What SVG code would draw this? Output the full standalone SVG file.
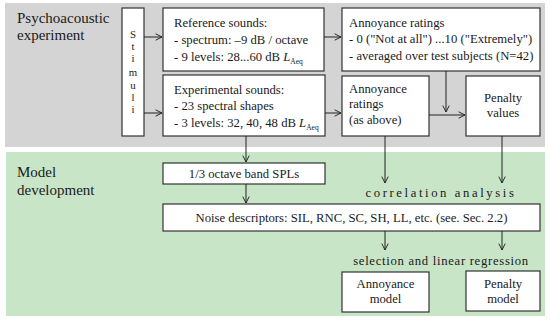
<svg xmlns="http://www.w3.org/2000/svg" width="550" height="320" viewBox="0 0 550 320" font-family="'Liberation Serif', 'DejaVu Serif', serif">
<style>
text{font-family:'Liberation Serif','DejaVu Serif',serif;fill:#1a1a1a;font-size:12.7px}
.title{font-size:15px}
.box{fill:#fff;stroke:#333;stroke-width:1.2}
.c{text-anchor:middle}
.st{font-size:10.8px;text-anchor:middle}
.sub{font-size:7.5px}
.conn line{stroke:#222;stroke-width:1;fill:none}
</style>
<defs>
<marker id="ah" viewBox="0 0 10 10" refX="9" refY="5" markerWidth="8" markerHeight="8" markerUnits="userSpaceOnUse" orient="auto">
<path d="M1,1 L9,5 L1,9" fill="none" stroke="#222" stroke-width="1.2"/>
</marker>
</defs>
<rect x="5" y="3" width="540" height="144" fill="#d4d4d4"/>
<rect x="6" y="152" width="539" height="164" fill="#c8e5c8"/>
<g id="label-psycho">
<text class="title" x="17" y="23">Psychoacoustic</text>
<text class="title" x="17" y="40">experiment</text>
</g>
<g id="label-model">
<text class="title" x="17" y="177">Model</text>
<text class="title" x="17" y="195">development</text>
</g>
<g id="stimuli">
<rect class="box" x="122" y="8" width="22" height="128"/>
<text class="st" x="133" y="38">S</text>
<text class="st" x="133" y="50">t</text>
<text class="st" x="133" y="62">i</text>
<text class="st" x="133" y="76">m</text>
<text class="st" x="133" y="89">u</text>
<text class="st" x="133" y="101">l</text>
<text class="st" x="133" y="113">i</text>
</g>
<g id="reference">
<rect class="box" x="163" y="8" width="161" height="63"/>
<text x="174" y="27">Reference sounds:</text>
<text x="174" y="44">- spectrum: –9 dB / octave</text>
<text x="174" y="61">- 9 levels: 28...60 dB <tspan font-style="italic">L</tspan><tspan class="sub" dy="3">Aeq</tspan></text>
</g>
<g id="experimental">
<rect class="box" x="163" y="75" width="162" height="61"/>
<text x="174" y="94">Experimental sounds:</text>
<text x="174" y="110">- 23 spectral shapes</text>
<text x="174" y="127">- 3 levels: 32, 40, 48 dB <tspan font-style="italic">L</tspan><tspan class="sub" dy="3">Aeq</tspan></text>
</g>
<g id="annoyance-ratings">
<rect class="box" x="342" y="8" width="198" height="63"/>
<text x="349" y="27">Annoyance ratings</text>
<text x="349" y="43">- 0 ("Not at all") ...10 ("Extremely")</text>
<text x="349" y="60">- averaged over test subjects (N=42)</text>
</g>
<g id="annoyance-ratings-2">
<rect class="box" x="342" y="76" width="87" height="60"/>
<text x="349" y="93">Annoyance</text>
<text x="349" y="108">ratings</text>
<text x="349" y="124">(as above)</text>
</g>
<g id="penalty-values">
<rect class="box" x="466" y="76" width="74" height="60"/>
<text class="c" x="503" y="102">Penalty</text>
<text class="c" x="503" y="117">values</text>
</g>
<g id="octave-spl">
<rect class="box" x="163" y="163" width="162" height="21"/>
<text class="c" x="244" y="178">1/3 octave band SPLs</text>
</g>
<g id="noise-descriptors">
<rect class="box" x="163" y="204" width="377" height="27"/>
<text class="c" x="351.5" y="222">Noise descriptors: SIL, RNC, SC, SH, LL, etc. (see. Sec. 2.2)</text>
</g>
<g id="annoyance-model">
<rect class="box" x="342" y="272" width="87" height="40"/>
<text class="c" x="385.5" y="288">Annoyance</text>
<text class="c" x="385.5" y="303">model</text>
</g>
<g id="penalty-model">
<rect class="box" x="466" y="271" width="74" height="40"/>
<text class="c" x="503" y="288">Penalty</text>
<text class="c" x="503" y="303">model</text>
</g>
<g id="labels">
<text class="c" x="441" y="197" letter-spacing="2.6">correlation analysis</text>
<text class="c" x="441" y="265" letter-spacing="0.7">selection and linear regression</text>
</g>
<g class="conn" id="connectors">
<line x1="144" y1="37" x2="162" y2="37" marker-end="url(#ah)"/>
<line x1="144" y1="113" x2="162" y2="113" marker-end="url(#ah)"/>
<line x1="324" y1="37" x2="341" y2="37" marker-end="url(#ah)"/>
<line x1="325" y1="113" x2="341" y2="113" marker-end="url(#ah)"/>
<line x1="429" y1="115" x2="465" y2="115" marker-end="url(#ah)"/>
<line x1="446" y1="71" x2="446" y2="112" marker-end="url(#ah)"/>
<line x1="246" y1="136" x2="246" y2="162" marker-end="url(#ah)"/>
<line x1="246" y1="184" x2="246" y2="203" marker-end="url(#ah)"/>
<line x1="385" y1="136" x2="385" y2="183" marker-end="url(#ah)"/>
<line x1="502" y1="136" x2="502" y2="183" marker-end="url(#ah)"/>
<line x1="385" y1="231" x2="385" y2="250" marker-end="url(#ah)"/>
<line x1="502" y1="231" x2="502" y2="250" marker-end="url(#ah)"/>
</g>
</svg>
